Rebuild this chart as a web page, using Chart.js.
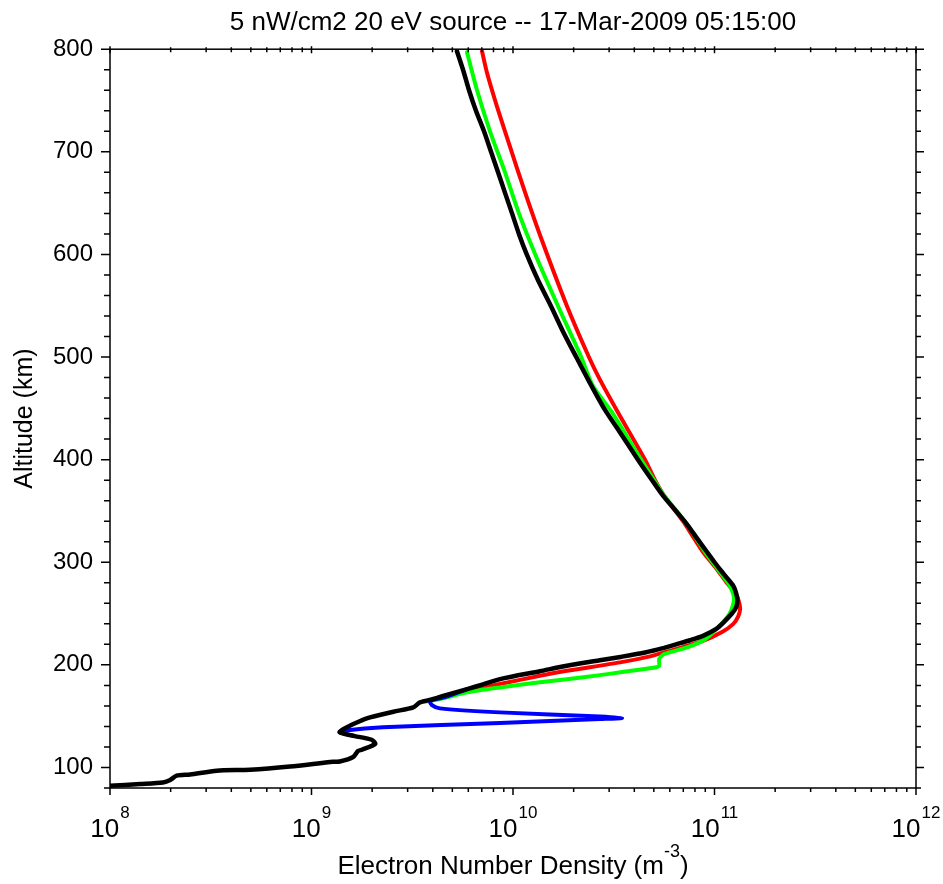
<!DOCTYPE html>
<html>
<head>
<meta charset="utf-8">
<script src="https://cdn.jsdelivr.net/npm/chart.js@4.4.1/dist/chart.umd.min.js"></script>
<style>
html, body { margin: 0; padding: 0; background: #fff; }
#wrap { position: relative; width: 943px; height: 884px; }
</style>
</head>
<body>
<div id="wrap"><canvas id="profileChart"></canvas></div>
<script>
// Altitude (km) and electron number density (m^-3)
const altBlack = [82.2, 83.9, 85.4, 87.8, 92.0, 93.2, 96.9, 97.8, 100.9, 105.6, 105.8, 110.2, 116.0, 117.3,
  123.0, 127.0, 130.6, 134.2, 138.4, 140.7, 147.9, 154.3, 158.6, 163.4, 166.7, 170.0, 176.4, 181.0, 186.1,
  193.8, 199.1, 204.5, 208.0, 212.0, 216.0, 220.0, 224.0, 228.3, 235.0, 241.4, 250.0, 256.0, 263.0, 270.0,
  277.0, 285.0, 293.0, 300.0, 310.0, 322.0, 337.0, 350.0, 365.0, 380.0, 400.0, 428.0, 450.0, 478.0, 500.0,
  525.0, 550.0, 575.0, 600.0, 620.0, 640.0, 660.0, 680.0, 700.0, 720.0, 740.0, 760.0, 780.0, 798.0];
const neBlack = [1.00e8, 1.41e8, 1.83e8, 1.99e8, 2.14e8, 2.50e8, 3.39e8, 4.95e8, 7.82e8, 1.28e9, 1.38e9, 1.61e9, 1.70e9, 1.78e9,
  2.07e9, 1.99e9, 1.64e9, 1.38e9, 1.47e9, 1.55e9, 1.88e9, 2.55e9, 3.20e9, 3.45e9, 4.03e9, 4.55e9, 5.92e9, 7.10e9, 8.62e9,
  1.36e10, 1.85e10, 2.70e10, 3.48e10, 4.52e10, 5.49e10, 6.44e10, 7.56e10, 8.77e10, 1.02e11, 1.11e11, 1.22e11, 1.28e11, 1.30e11, 1.28e11,
  1.24e11, 1.15e11, 1.065e11, 1.00e11, 9.18e10, 8.28e10, 7.30e10, 6.44e10, 5.55e10, 4.90e10, 4.17e10, 3.36e10, 2.83e10, 2.36e10, 2.06e10,
  1.77e10, 1.54e10, 1.33e10, 1.17e10, 1.07e10, 9.89e9, 9.13e9, 8.43e9, 7.78e9, 7.18e9, 6.55e9, 6.05e9, 5.65e9, 5.27e9];

const altRed = [166.7, 170.0, 174.7, 181.3, 189.4, 194.2, 202.4, 208.3, 213.7, 223.4, 232.0, 240.0, 247.0, 254.3,
  262.0, 270.0, 280.0, 293.0, 310.0, 325.0, 340.0, 365.0, 380.0, 400.0, 446.0, 478.0, 500.0, 550.0, 614.0,
  660.0, 705.0, 744.0, 777.0, 798.0];
const neRed = [4.03e9, 4.65e9, 5.92e9, 8.62e9, 1.36e10, 1.85e10, 3.40e10, 4.79e10, 6.01e10, 8.77e10, 1.09e11, 1.24e11, 1.31e11, 1.34e11,
  1.32e11, 1.27e11, 1.15e11, 1.03e11, 8.77e10, 7.82e10, 6.98e10, 5.62e10, 5.07e10, 4.52e10, 3.32e10, 2.70e10, 2.38e10, 1.85e10, 1.39e10,
  1.15e10, 9.66e9, 8.33e9, 7.43e9, 7.02e9];

const altGreen = [163.4, 166.7, 173.2, 178.0, 183.0, 186.0, 190.0, 193.0, 197.5, 199.0, 205.6, 208.0, 210.5, 217.0,
  225.0, 238.0, 250.0, 264.0, 277.0, 293.0, 310.0, 337.0, 365.0, 380.0, 400.0, 446.0, 472.0, 500.0, 550.0,
  600.0, 640.0, 680.0, 720.0, 760.0, 797.0];
const neGreen = [3.45e9, 4.34e9, 5.92e9, 8.62e9, 1.36e10, 1.85e10, 2.70e10, 3.48e10, 5.07e10, 5.31e10, 5.31e10, 5.42e10, 5.61e10, 7.31e10,
  8.98e10, 1.06e11, 1.19e11, 1.25e11, 1.19e11, 1.04e11, 8.98e10, 7.30e10, 5.62e10, 5.01e10, 4.32e10, 3.10e10, 2.49e10, 2.18e10, 1.67e10,
  1.29e10, 1.07e10, 9.13e9, 7.69e9, 6.63e9, 5.91e9];

const altBlue = [130.6, 134.2, 136.0, 139.1, 143.3, 147.2, 148.2, 149.6, 153.7, 157.6, 160.8, 165.0, 168.0, 176.4];
const neBlue = [1.64e9, 1.38e9, 1.47e9, 2.26e9, 8.62e9, 2.70e10, 3.48e10, 2.70e10, 8.62e9, 4.34e9, 3.96e9, 3.87e9, 4.50e9, 5.92e9];

const altMin = 80, altMax = 800, altMinorStep = 20, altMajorStep = 100;
const decadeMin = 8, decadeMax = 12;

const FONT = "'Liberation Sans', Arial, sans-serif";
Chart.defaults.font.family = FONT;
Chart.defaults.color = '#000';

function toPoints(alt, ne) {
    return alt.map((a, i) => ({ x: ne[i], y: a }));
}

// black on top, red at the bottom
const runs = [
    { alt: altBlack, ne: neBlack, color: '#000000', width: 4.5 },
    { alt: altBlue, ne: neBlue, color: '#0000ff', width: 4 },
    { alt: altGreen, ne: neGreen, color: '#00ff00', width: 4 },
    { alt: altRed, ne: neRed, color: '#ff0000', width: 4 }
];

// axis frame, tick marks and the power-of-ten labels
const framePlugin = {
    id: 'frame',
    afterDraw(chart) {
        const { ctx, chartArea: a } = chart;
        const x = chart.scales.x, y = chart.scales.y;
        ctx.save();
        ctx.strokeStyle = '#000';
        ctx.lineWidth = 1.5;
        ctx.beginPath();
        for (let v = altMin; v <= altMax; v += altMinorStep) {
            const py = y.getPixelForValue(v);
            const major = v % altMajorStep === 0;
            ctx.moveTo(a.left - (major ? 9 : 6), py);
            ctx.lineTo(a.left, py);
            ctx.moveTo(a.right, py);
            ctx.lineTo(a.right + (major ? 8 : 5), py);
        }
        for (let p = decadeMin; p <= decadeMax; p++) {
            for (let m = 1; m <= 9; m++) {
                if (p === decadeMax && m > 1) break;
                const px = x.getPixelForValue(m * Math.pow(10, p));
                const major = m === 1;
                ctx.moveTo(px, a.bottom);
                ctx.lineTo(px, a.bottom + (major ? 7 : 4));
                ctx.moveTo(px, a.top - (major ? 3 : 2));
                ctx.lineTo(px, a.top + (major ? 4 : 3));
            }
        }
        ctx.stroke();
        ctx.strokeRect(a.left, a.top, a.right - a.left, a.bottom - a.top);

        ctx.fillStyle = '#000';
        ctx.textBaseline = 'alphabetic';
        ctx.textAlign = 'left';
        for (let p = decadeMin; p <= decadeMax; p++) {
            const px = x.getPixelForValue(Math.pow(10, p));
            ctx.font = '26px ' + FONT;
            const w1 = ctx.measureText('10').width;
            ctx.font = '17px ' + FONT;
            const w2 = ctx.measureText(String(p)).width;
            const start = px - (w1 + w2 + 1) / 2;
            ctx.font = '26px ' + FONT;
            ctx.fillText('10', start, 837);
            ctx.font = '17px ' + FONT;
            ctx.fillText(String(p), start + w1 + 1, 818);
        }

        // x axis title with superscript unit
        const main = 'Electron Number Density (m', sup = '-3', close = ')';
        ctx.font = '26px ' + FONT;
        const wm = ctx.measureText(main).width, wc = ctx.measureText(close).width;
        ctx.font = '18px ' + FONT;
        const ws = ctx.measureText(sup).width;
        const tx = (a.left + a.right) / 2 - (wm + ws + wc) / 2;
        ctx.font = '26px ' + FONT;
        ctx.fillText(main, tx, 874);
        ctx.font = '18px ' + FONT;
        ctx.fillText(sup, tx + wm, 857);
        ctx.font = '26px ' + FONT;
        ctx.fillText(close, tx + wm + ws, 874);
        ctx.restore();
    }
};

new Chart(document.getElementById('profileChart'), {
    type: 'scatter',
    data: {
        datasets: runs.map(r => ({
            data: toPoints(r.alt, r.ne),
            showLine: true,
            borderColor: r.color,
            backgroundColor: r.color,
            borderWidth: r.width,
            pointRadius: 0,
            tension: 0.25,
            borderJoinStyle: 'round',
            borderCapStyle: 'round'
        }))
    },
    options: {
        responsive: true,
        maintainAspectRatio: false,
        animation: false,
        layout: { padding: { top: 0, right: 27, bottom: 0, left: 0 } },
        plugins: {
            legend: { display: false },
            tooltip: { enabled: false },
            title: {
                display: true,
                fullSize: false,
                text: '5 nW/cm2 20 eV source -- 17-Mar-2009 05:15:00',
                font: { size: 26, weight: 'normal' },
                color: '#000',
                padding: { top: 7, bottom: 11 }
            }
        },
        scales: {
            x: {
                type: 'logarithmic',
                min: Math.pow(10, decadeMin),
                max: Math.pow(10, decadeMax),
                ticks: { display: false },
                grid: { display: false },
                border: { display: false },
                afterFit: s => { s.height = 96; }
            },
            y: {
                type: 'linear',
                min: altMin,
                max: altMax,
                ticks: {
                    stepSize: altMinorStep,
                    autoSkip: false,
                    padding: 8,
                    font: { size: 24 },
                    color: '#000',
                    callback: v => (v % altMajorStep === 0 ? String(v) : '')
                },
                grid: { display: true, drawOnChartArea: false, tickLength: 9, tickColor: 'rgba(0,0,0,0)' },
                border: { display: false },
                title: {
                    display: true,
                    text: 'Altitude (km)',
                    font: { size: 25 },
                    color: '#000',
                    padding: { top: 10, bottom: 0 }
                },
                afterFit: s => { s.width = 110; }
            }
        }
    },
    plugins: [framePlugin]
});
</script>
</body>
</html>
